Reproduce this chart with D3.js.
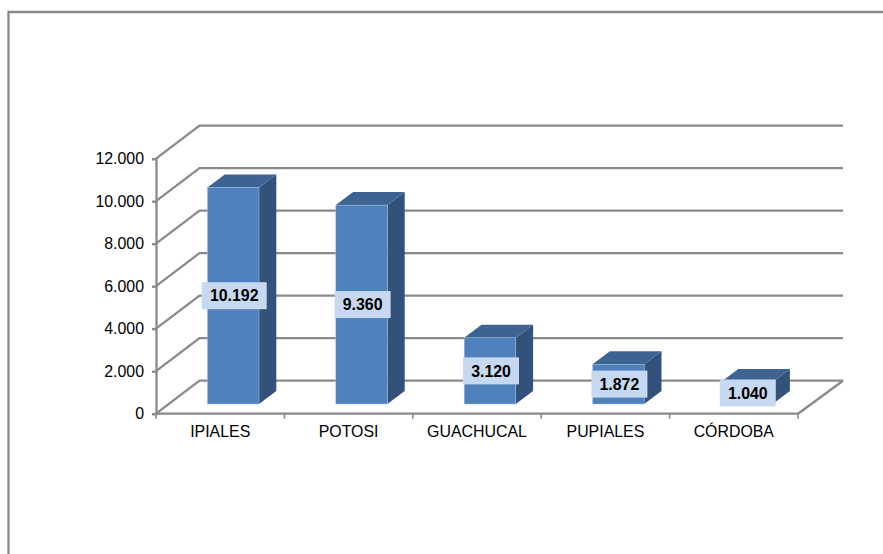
<!DOCTYPE html>
<html>
<head>
<meta charset="utf-8">
<style>
  html, body { margin: 0; padding: 0; background: #fff; }
  svg { display: block; }
  text { font-family: "Liberation Sans", Arial, sans-serif; fill: #000; }
</style>
<script src="https://cdn.jsdelivr.net/npm/d3@7/dist/d3.min.js"></script>
</head>
<body>
<script>
// Population by municipality
const categories = ["IPIALES", "POTOSI", "GUACHUCAL", "PUPIALES", "CÓRDOBA"];
const values = [10192, 9360, 3120, 1872, 1040];
const valueTicks = [0, 2000, 4000, 6000, 8000, 10000, 12000];

const width = 883, height = 554;
const gridColor = "#8a8a8a";
const colors = { front: "#4f81bd", top: "#3c6392", side: "#32527c", edge: "#a9c3e2", label: "#c6d9f1" };

// Oblique projection: how far the floor recedes from the front edge to the back wall
const depth = { x: 43.5, y: -33 };
const barInset = { x: 13, y: -9.7 };
const barDepth = { x: 17.3, y: -13 };

const x = d3.scaleBand().domain(categories).range([156, 798]);
const y = d3.scaleLinear().domain([0, 12000]).range([413.7, 158.7]);
const fmt = d3.formatLocale({ decimal: ",", thousands: ".", grouping: [3], currency: ["", ""] }).format(",d");

const svg = d3.select("body").append("svg").attr("width", width).attr("height", height);

// Chart frame, running off the right and bottom of the page
svg.append("path")
  .attr("d", `M${width},12H8.5V${height}`)
  .attr("fill", "none").attr("stroke", gridColor).attr("stroke-width", 2.3);

// Side wall, back wall and floor gridlines
const grid = svg.append("g").attr("fill", "none").attr("stroke", gridColor).attr("stroke-width", 2.3);
grid.selectAll("path.wall").data(valueTicks).join("path").attr("class", "wall")
  .attr("d", d => `M${x.range()[0]},${y(d)}l${depth.x},${depth.y}H${x.range()[1] + depth.x + 1.5}`);
grid.append("path")
  .attr("d", `M${x.range()[1]},${y(0)}l${depth.x + 1.5},${depth.y}`);

// Three faces of each column
const bars = svg.append("g").selectAll("g").data(categories).join("g");
const barWidth = 51.6;
const frontX = d => x(d) + (x.bandwidth() - barWidth) / 2 + barInset.x;
const baseY = y(0) + barInset.y;
const topY = i => baseY - (y(0) - y(values[i]));

bars.append("path")
  .attr("fill", colors.side)
  .attr("d", (d, i) => {
    const r = frontX(d) + barWidth;
    return `M${r},${topY(i)}l${barDepth.x},${barDepth.y}V${baseY + barDepth.y}l${-barDepth.x},${-barDepth.y}Z`;
  });
bars.append("path")
  .attr("fill", colors.top)
  .attr("d", (d, i) => {
    const l = frontX(d);
    return `M${l},${topY(i)}l${barDepth.x},${barDepth.y}h${barWidth}l${-barDepth.x},${-barDepth.y}Z`;
  });
bars.append("rect")
  .attr("fill", colors.front)
  .attr("stroke", colors.edge).attr("stroke-width", 0.5)
  .attr("x", d => frontX(d))
  .attr("y", (d, i) => topY(i))
  .attr("width", barWidth)
  .attr("height", (d, i) => baseY - topY(i));

// Axes
const yAxis = d3.axisLeft(y).tickValues(valueTicks).tickFormat(fmt).tickSize(4).tickPadding(8);
const xAxis = d3.axisBottom(x).tickSize(0).tickPadding(12);

const gy = svg.append("g").attr("transform", `translate(${x.range()[0]},0)`).call(yAxis);
const gx = svg.append("g").attr("transform", `translate(0,${y(0)})`).call(xAxis);

[gy, gx].forEach(g => {
  g.selectAll(".domain, .tick line").attr("stroke", gridColor).attr("stroke-width", 2.3);
  g.selectAll("text").attr("font-family", '"Liberation Sans", Arial, sans-serif').attr("font-size", 15.9).attr("fill", "#000");
});
gx.select(".domain").attr("d", `M${x.range()[0]},0H${x.range()[1]}`);

// Category boundaries on the bottom axis
gx.selectAll("line.sep").data(d3.range(categories.length + 1)).join("line").attr("class", "sep")
  .attr("x1", i => x.range()[0] + i * x.step()).attr("x2", i => x.range()[0] + i * x.step())
  .attr("y1", 0).attr("y2", 5)
  .attr("stroke", gridColor).attr("stroke-width", 1.6);

// Value labels centred on the front face of each column
const labels = svg.append("g").selectAll("g").data(categories).join("g")
  .attr("transform", (d, i) => `translate(${frontX(d) + barWidth / 2 + 1},${(topY(i) + baseY) / 2})`);
labels.append("rect")
  .attr("x", (d, i) => values[i] >= 10000 ? -32.5 : -28)
  .attr("width", (d, i) => values[i] >= 10000 ? 65 : 56)
  .attr("y", -13.5).attr("height", 27)
  .attr("fill", colors.label);
labels.append("text")
  .attr("text-anchor", "middle").attr("dy", "0.36em")
  .attr("font-size", 15.9).attr("font-weight", "bold")
  .text((d, i) => fmt(values[i]));
</script>
</body>
</html>
